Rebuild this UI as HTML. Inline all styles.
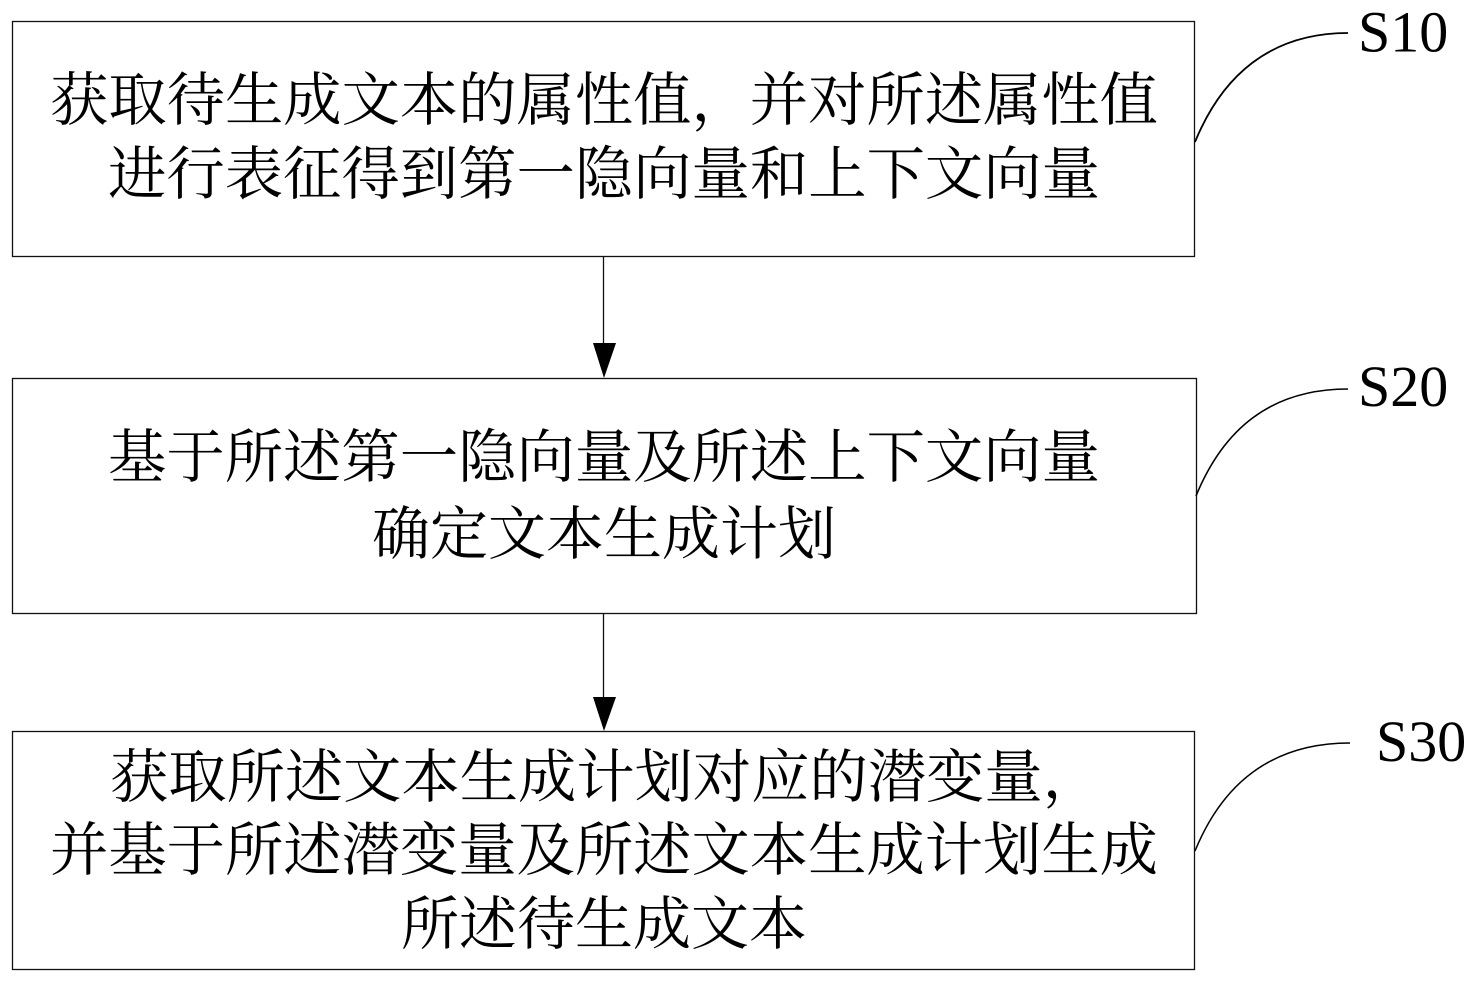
<!DOCTYPE html>
<html>
<head>
<meta charset="utf-8">
<style>
html,body{margin:0;padding:0;background:#fff;width:1478px;height:984px;overflow:hidden}
svg{display:block}
.c{font-family:"Noto Serif CJK SC","Liberation Serif",serif;font-size:58px;fill:#000;text-anchor:middle}
.s{font-family:"Liberation Serif",serif;font-size:58px;fill:#000}
</style>
</head>
<body>
<svg width="1478" height="984" viewBox="0 0 1478 984">
<g fill="none" stroke="#111" stroke-width="1.3">
<rect x="12.5" y="21.5" width="1182" height="235"/>
<rect x="12.5" y="378.5" width="1184" height="235"/>
<rect x="12.5" y="731.5" width="1182" height="238"/>
<line x1="603.5" y1="257" x2="603.5" y2="345"/>
<line x1="603.5" y1="614" x2="603.5" y2="700"/>
</g>
<g fill="none" stroke="#000">
<path stroke-width="1.8" d="M1195 142C1222 76 1270 33 1348 33"/>
<path stroke-width="1.6" d="M1196 496C1223 430 1270 389 1348 389"/>
<path stroke-width="1.5" d="M1195 851C1222 785 1270 743 1350 743"/>
</g>
<polygon points="593,343 616,343 604,378" fill="#000"/>
<polygon points="593,697 616,697 604,731" fill="#000"/>
<text class="c" x="604" y="120" textLength="1108" lengthAdjust="spacingAndGlyphs">获取待生成文本的属性值，并对所述属性值</text>
<text class="c" x="604" y="194" textLength="992" lengthAdjust="spacingAndGlyphs">进行表征得到第一隐向量和上下文向量</text>
<text class="c" x="604" y="477" textLength="992" lengthAdjust="spacingAndGlyphs">基于所述第一隐向量及所述上下文向量</text>
<text class="c" x="604" y="554" textLength="464" lengthAdjust="spacingAndGlyphs">确定文本生成计划</text>
<text class="c" x="605.5" y="797" textLength="991" lengthAdjust="spacingAndGlyphs">获取所述文本生成计划对应的潜变量，</text>
<text class="c" x="604" y="870" textLength="1108" lengthAdjust="spacingAndGlyphs">并基于所述潜变量及所述文本生成计划生成</text>
<text class="c" x="604" y="944" textLength="406" lengthAdjust="spacingAndGlyphs">所述待生成文本</text>
<text class="s" x="1358" y="51.5">S10</text>
<text class="s" x="1358" y="406">S20</text>
<text class="s" x="1376" y="761">S30</text>
</svg>
</body>
</html>
